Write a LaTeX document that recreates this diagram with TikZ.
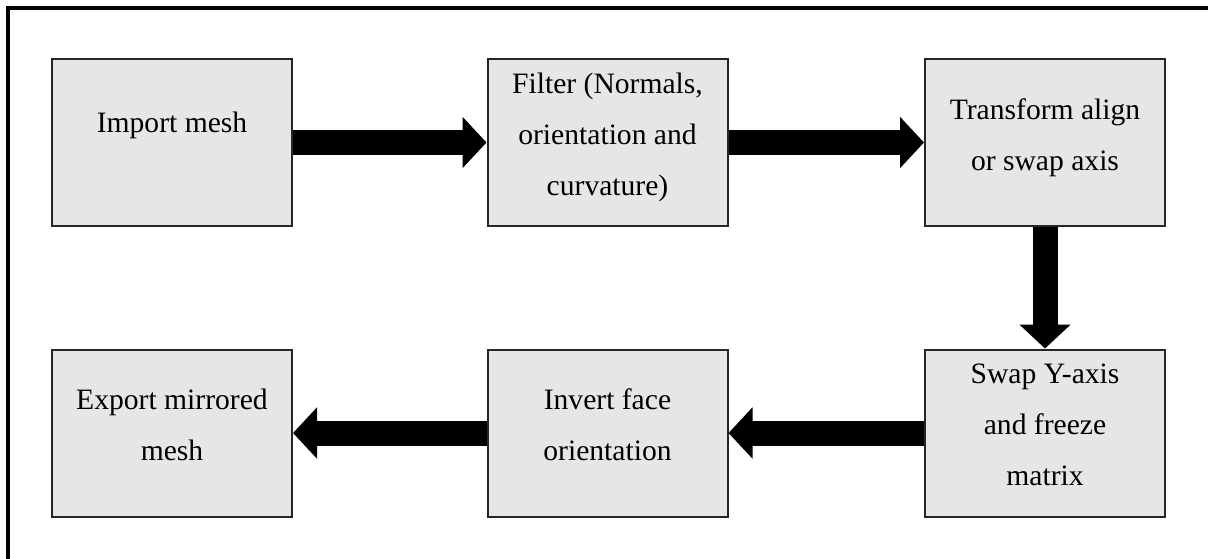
\documentclass[tikz,border=0pt]{standalone}
\usepackage{fontspec}
\setmainfont{Liberation Serif}
\usetikzlibrary{arrows.meta}
\definecolor{stepfill}{RGB}{231,229,230}
\begin{document}
\begin{tikzpicture}[x=0.5pt, y=-0.5pt,
        block/.style={draw=black!85, line width=1pt, fill=stepfill, rectangle,
            minimum width=120pt, minimum height=83.5pt, align=center, text depth=8pt,
            font=\fontsize{14.8}{25.5}\selectfont},
        flow/.style={line width=12.5pt, -{Triangle[length=12pt, width=25pt]}}]
    \useasboundingbox (0,0) rectangle (1208,558);
    \draw[line width=2pt] (1260,8) -- (8,8) -- (8,600);
    % top row
    \node at (172,142.5) [block, text depth=20pt] (import) {Import mesh};
    \node at (607.5,142.5) [block] (filter) {Filter (Normals,\\ orientation and\\ curvature)};
    \node at (1045,142.5) [block] (transform) {Transform align\\ or swap axis};
    % bottom row
    \node at (1045,433) [block] (swap) {Swap Y-axis\\ and freeze\\ matrix};
    \node at (607.5,433) [block] (invert) {Invert face\\ orientation};
    \node at (172,433) [block] (export) {Export mirrored\\ mesh};
    \draw[flow] (import) -- (filter);
    \draw[flow] (filter) -- (transform);
    \draw[flow] (transform) -- (swap);
    \draw[flow] (swap) -- (invert);
    \draw[flow] (invert) -- (export);
\end{tikzpicture}
\end{document}
